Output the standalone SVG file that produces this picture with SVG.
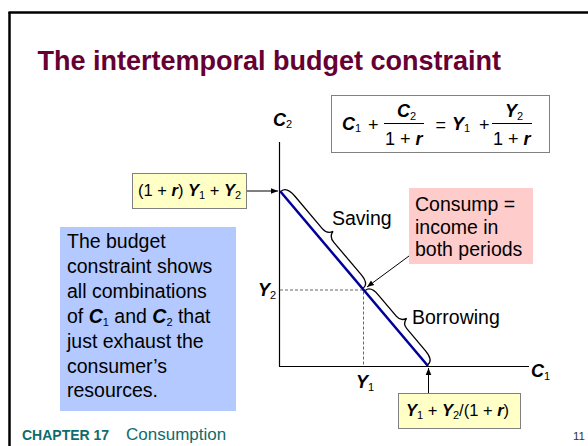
<svg xmlns="http://www.w3.org/2000/svg" width="588" height="446" viewBox="0 0 588 446">
  <style>
    text { font-family: "Liberation Sans", Arial, sans-serif; fill: #000; }
    .v { font-weight: bold; font-style: italic; }
    .sub { font-size: 11px; font-weight: normal; font-style: normal; }
    .eq { font-size: 18px; }
    .lbl { font-size: 19.5px; }
    .ax { font-size: 18px; }
    .box-y { fill: #ffffc6; stroke: #808080; stroke-width: 1; }
    .dash { stroke: #666; stroke-width: 1; stroke-dasharray: 3 2; fill: none; }
    .brace { fill: none; stroke: #000; stroke-width: 1.3; }
    .conn { stroke: #000; stroke-width: 1; fill: none; }
    .foot { fill: #0f6b6b; }
  </style>
  <defs>
    <marker id="ah" viewBox="0 0 10 10" refX="10" refY="5" markerWidth="7" markerHeight="7" markerUnits="userSpaceOnUse" orient="auto">
      <path d="M0,1 L10,5 L0,9 z" fill="#000"/>
    </marker>
  </defs>

  <rect width="588" height="446" fill="#fff"/>

  <g id="frame">
    <line x1="8.5" y1="12.5" x2="588" y2="12.5" stroke="#000" stroke-width="2.5"/>
    <line x1="9.5" y1="12" x2="9.5" y2="446" stroke="#000" stroke-width="2.5"/>
  </g>

  <g id="title">
    <text x="37.5" y="70" font-size="27" font-weight="bold" style="fill:#660033">The intertemporal budget constraint</text>
  </g>

  <g id="equation">
    <rect x="331.5" y="95.5" width="218" height="57" fill="#fff" stroke="#808080" stroke-width="1"/>
    <text class="eq" x="342" y="129.5"><tspan class="v">C</tspan><tspan class="sub" dy="2.5">1</tspan></text>
    <text class="eq" x="368" y="130.5">+</text>
    <text class="eq" x="397" y="117"><tspan class="v">C</tspan><tspan class="sub" dy="2.5">2</tspan></text>
    <line x1="384" y1="123.5" x2="424" y2="123.5" stroke="#000" stroke-width="1"/>
    <text class="eq" x="385" y="145">1 + <tspan class="v">r</tspan></text>
    <text class="eq" x="435.5" y="131">=</text>
    <text class="eq" x="452" y="129.5"><tspan class="v">Y</tspan><tspan class="sub" dy="2.5">1</tspan></text>
    <text class="eq" x="479" y="130.5">+</text>
    <text class="eq" x="505" y="117"><tspan class="v">Y</tspan><tspan class="sub" dy="2.5">2</tspan></text>
    <line x1="492" y1="123.5" x2="532" y2="123.5" stroke="#000" stroke-width="1"/>
    <text class="eq" x="493" y="145">1 + <tspan class="v">r</tspan></text>
  </g>

  <g id="axes">
    <line x1="279.5" y1="142" x2="279.5" y2="366.5" stroke="#000" stroke-width="1.2"/>
    <line x1="279" y1="366.5" x2="529" y2="366.5" stroke="#000" stroke-width="1.2"/>
    <text class="ax" x="273" y="126"><tspan class="v">C</tspan><tspan class="sub" dy="2">2</tspan></text>
    <text class="ax" x="531" y="377"><tspan class="v">C</tspan><tspan class="sub" dy="3">1</tspan></text>
    <text class="ax" x="258" y="296"><tspan class="v">Y</tspan><tspan class="sub" dy="3">2</tspan></text>
    <text class="ax" x="356" y="388"><tspan class="v">Y</tspan><tspan class="sub" dy="3">1</tspan></text>
    <path class="dash" d="M280,290 H363.5 V366"/>
  </g>

  <g id="budget-line">
    <line x1="280" y1="191" x2="428" y2="366" stroke="#000099" stroke-width="2.5"/>
  </g>

  <g id="braces" transform="translate(280,191) rotate(49.8)">
    <path class="brace" d="M1,-1 C1,-6 6,-8 14,-8 L56,-8 C61,-8 64,-10 65,-14.5 C66,-10 69,-8 74,-8 L116,-8 C123,-8 128,-6 128,-1"/>
    <path class="brace" d="M131,-1 C131,-6 136,-8 143,-8 L171,-8 C175,-8 178,-10 179,-14.5 C180,-10 183,-8 187,-8 L216,-8 C223,-8 228,-6 228,-1"/>
  </g>
  <text class="lbl" x="332" y="225">Saving</text>
  <text class="lbl" x="412" y="324">Borrowing</text>

  <g id="c2-intercept">
    <rect class="box-y" x="132.5" y="173.5" width="114" height="35"/>
    <text font-size="16.5" x="138" y="196">(1 + <tspan class="v">r</tspan>) <tspan class="v">Y</tspan><tspan class="sub" dy="3">1</tspan><tspan dy="-3"> + </tspan><tspan class="v">Y</tspan><tspan class="sub" dy="3">2</tspan></text>
  </g>
  <g id="c1-intercept">
    <rect class="box-y" x="398.5" y="393.5" width="122" height="35"/>
    <text font-size="16.5" x="406" y="416"><tspan class="v">Y</tspan><tspan class="sub" dy="3">1</tspan><tspan dy="-3"> + </tspan><tspan class="v">Y</tspan><tspan class="sub" dy="3">2</tspan><tspan dy="-3">/(1 + </tspan><tspan class="v">r</tspan>)</text>
  </g>

  <g id="note-consump">
    <rect x="409" y="188" width="124" height="76" fill="#ffcccc"/>
    <text class="lbl" x="415" y="211">Consump =</text>
    <text class="lbl" x="415" y="234">income in</text>
    <text class="lbl" x="415" y="256">both periods</text>
  </g>

  <g id="note-budget">
    <rect x="60" y="227" width="176" height="184" fill="#b3c9ff"/>
    <text class="lbl" x="67" y="248">The budget</text>
    <text class="lbl" x="67" y="273">constraint shows</text>
    <text class="lbl" x="67" y="298">all combinations</text>
    <text class="lbl" x="67" y="323">of <tspan class="v">C</tspan><tspan class="sub" font-size="12" dy="3">1</tspan><tspan dy="-3"> and </tspan><tspan class="v">C</tspan><tspan class="sub" font-size="12" dy="3">2</tspan><tspan dy="-3"> that</tspan></text>
    <text class="lbl" x="67" y="347.5">just exhaust the</text>
    <text class="lbl" x="67" y="372.5">consumer’s</text>
    <text class="lbl" x="67" y="397">resources.</text>
  </g>

  <g id="connectors">
    <line class="conn" x1="247" y1="191" x2="278" y2="191" marker-end="url(#ah)"/>
    <line class="conn" x1="428.5" y1="393" x2="428.5" y2="368" marker-end="url(#ah)"/>
    <line class="conn" x1="409" y1="256" x2="367" y2="287" marker-end="url(#ah)"/>
  </g>

  <g id="footer">
    <text class="foot" x="22" y="440" font-size="14" font-weight="bold">CHAPTER 17</text>
    <text class="foot" x="126" y="440" font-size="17">Consumption</text>
    <text x="573" y="440" font-size="11.5" style="fill:#333">11</text>
  </g>
</svg>
